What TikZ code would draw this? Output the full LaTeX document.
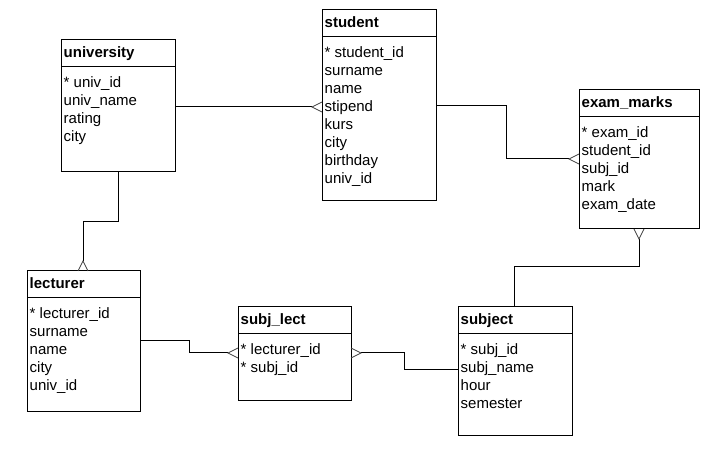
\documentclass[tikz,border=0pt]{standalone}
\usepackage{fontspec}
\setmainfont{Liberation Sans}
\usetikzlibrary{calc}
\tikzset{
  tbl/.style={draw, line width=1pt, anchor=north west, inner sep=0pt, outer sep=0pt},
  hdr/.style={anchor=base west, inner sep=0pt, font=\fontsize{15}{18}\selectfont\bfseries},
  attr/.style={anchor=base west, inner sep=0pt, font=\fontsize{15}{18}\selectfont},
  conn/.style={line width=1pt},
  foot/.style={line width=0.7pt, black!75},
}
\newcommand\ertab[7]{%
  \node[tbl, minimum width=#4pt, minimum height=#5pt] (#1) at (#2,#3) {};
  \draw[line width=1pt] ($(#1.north west)+(0,27)$) -- ($(#1.north east)+(0,27)$);
  \node[hdr] (#1-t) at ($(#1.north west)+(2.5,18)$) {#6};
  \foreach \a [count=\i] in {#7} {
    \node[attr] (#1-a\i) at ($(#1.north west)+(2.5,{48+18*(\i-1)})$) {\a};
  }
}
\newcommand\footW[1]{\draw[foot] ($(#1)+(0,-5)$) -- ($(#1)+(-10,0)$) -- ($(#1)+(0,5)$);}
\newcommand\footE[1]{\draw[foot] ($(#1)+(0,-5)$) -- ($(#1)+(10,0)$) -- ($(#1)+(0,5)$);}
\newcommand\footN[1]{\draw[foot] ($(#1)+(-5,0)$) -- ($(#1)+(0,-10)$) -- ($(#1)+(5,0)$);}
\newcommand\footS[1]{\draw[foot] ($(#1)+(-5,0)$) -- ($(#1)+(0,10)$) -- ($(#1)+(5,0)$);}
\begin{document}
\begin{tikzpicture}[x=1pt, y=-1pt]
\useasboundingbox[fill=white] (0,0) rectangle (718,454);

\ertab{university}{61}{40}{114}{132}{university}{* univ\_id, univ\_name, rating, city}
\ertab{student}{322}{10}{114}{191}{student}{* student\_id, surname, name, stipend, kurs, city, birthday, univ\_id}
\ertab{exam}{579}{90}{120}{139}{exam\_marks}{* exam\_id, student\_id, subj\_id, mark, exam\_date}
\ertab{lecturer}{27}{271}{113}{141}{lecturer}{* lecturer\_id, surname, name, city, univ\_id}
\ertab{subjlect}{238}{307}{113}{94}{subj\_lect}{* lecturer\_id, * subj\_id}
\ertab{subject}{458}{307}{114}{128}{subject}{* subj\_id, subj\_name, hour, semester}

% helper coordinates
\coordinate (r1) at (0,107);
\coordinate (r2a) at (0,106);
\coordinate (r2b) at (0,159);
\coordinate (r3) at (118,0);
\coordinate (r3b) at (83,0);
\coordinate (r4a) at (0,341);
\coordinate (r4b) at (0,353);
\coordinate (r5) at (0,370);
\coordinate (r6a) at (514,0);
\coordinate (r6b) at (639,0);

% university - student
\coordinate (f1) at (student.west |- r1);
\draw[conn] (university.east |- r1) -- ($(f1)+(-10,0)$);
\footW{f1}

% student - exam_marks
\coordinate (f2) at (exam.west |- r2b);
\draw[conn] (student.east |- r2a) -| (506,159) -- ($(f2)+(-10,0)$);
\footW{f2}

% university - lecturer
\coordinate (f3) at (lecturer.north -| r3b);
\draw[conn] (university.south -| r3) -- (118,222) -| ($(f3)+(0,-10)$);
\footN{f3}

% lecturer - subj_lect
\coordinate (f4) at (subjlect.west |- r4b);
\draw[conn] (lecturer.east |- r4a) -| (189,353) -- ($(f4)+(-10,0)$);
\footW{f4}

% subject - subj_lect
\coordinate (f5) at (subjlect.east |- r4b);
\draw[conn] (subject.west |- r5) -| (404,353) -- ($(f5)+(10,0)$);
\footE{f5}

% subject - exam_marks
\coordinate (f6) at (exam.south -| r6b);
\draw[conn] (subject.north -| r6a) -- (514,267) -| ($(f6)+(0,10)$);
\footS{f6}
\end{tikzpicture}
\end{document}
